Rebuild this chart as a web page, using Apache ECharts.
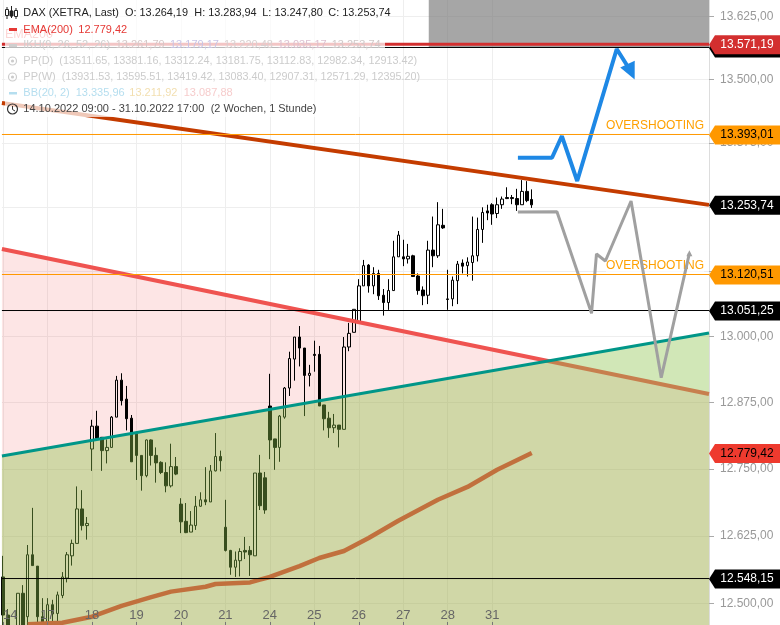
<!DOCTYPE html>
<html><head><meta charset="utf-8">
<style>html,body{margin:0;padding:0;background:#fff}#c{width:780px;height:625px}</style>
<script src="https://cdn.jsdelivr.net/npm/echarts@6/dist/echarts.min.js"></script>
</head><body><div id="c"></div>
<script>
// hourly candles: [open, close, low, high]; index 0 = 14.10.2022 09:00
var ohlc = [
[12549,12479,12445,12588],[12479,12452,12445,12490],[12450,12440,12430,12458],[12455,12519,12448,12519],[12519,12455,12448,12534],[12476,12590,12461,12608],[12590,12570,12570,12677],[12569,12476,12461,12569],[12476,12458,12452,12510],
[12464,12498,12461,12510],[12498,12481,12465,12507],[12482,12516,12467,12522],[12515,12549,12510,12558],[12547,12590,12539,12595],[12588,12611,12570,12618],[12611,12675,12611,12717],[12675,12644,12635,12710],[12644,12648,12618,12660],
[12787,12830,12746,12842],[12830,12807,12807,12859],[12809,12784,12746,12809],[12784,12790,12760,12805],[12790,12847,12790,12849],[12847,12917,12847,12925],[12917,12878,12869,12930],[12881,12844,12822,12906],[12845,12763,12763,12851],
[12815,12775,12729,12815],[12775,12737,12709,12775],[12737,12804,12734,12805],[12804,12775,12756,12805],[12775,12761,12724,12790],[12762,12743,12740,12764],[12743,12718,12706,12762],[12718,12754,12715,12797],[12754,12740,12738,12772],
[12684,12651,12630,12695],[12652,12631,12630,12686],[12632,12645,12632,12671],[12644,12680,12636,12699],[12680,12692,12679,12706],[12692,12688,12682,12753],[12688,12746,12688,12757],[12746,12773,12745,12817],[12773,12765,12745,12784],
[12641,12598,12596,12692],[12598,12567,12553,12599],[12567,12580,12549,12596],[12579,12596,12550,12602],[12598,12595,12582,12623],[12598,12590,12551,12606],[12588,12742,12588,12742],[12742,12681,12673,12776],[12733,12673,12666,12744],
[12868,12804,12768,12929],[12806,12790,12748,12806],[12790,12849,12763,12851],[12847,12902,12844,12904],[12902,12958,12887,12971],[12957,12999,12916,12999],[12999,12978,12943,13020],[12978,12926,12849,12978],[12926,12930,12905,12946],
[12966,12964,12933,12992],[12966,12868,12868,12982],[12870,12844,12822,12870],[12845,12827,12808,12857],[12827,12832,12817,12853],[12832,12824,12790,12832],[12824,12980,12824,12999],[12980,13006,12972,13026],[13008,13052,13008,13052],
[13028,13097,13025,13110],[13097,13136,13097,13147],[13137,13097,13084,13139],[13097,13121,13081,13133],[13121,13078,13070,13128],[13079,13065,13040,13091],[13065,13088,13051,13110],[13088,13153,13088,13184],[13153,13195,13153,13203],
[13153,13149,13135,13186],[13149,13154,13140,13178],[13155,13115,13115,13157],[13116,13088,13080,13121],[13089,13078,13060,13096],[13079,13166,13062,13184],[13166,13155,13133,13231],[13155,13215,13151,13259],[13214,13209,13207,13246],
[13072,13071,13051,13128],[13072,13108,13058,13115],[13107,13139,13062,13145],[13141,13135,13121,13148],[13136,13143,13115,13152],[13142,13155,13107,13231],[13155,13206,13144,13229],[13206,13239,13180,13249],[13242,13238,13224,13254],
[13254,13236,13215,13257],[13237,13254,13228,13268],[13254,13265,13246,13270],[13268,13266,13265,13288],[13268,13266,13255,13273],[13266,13254,13242,13285],[13254,13280,13254,13302],[13280,13262,13259,13300],[13264.19,13253.74,13247.80,13283.94]
];
var emaPoints = [[5,12462],[12,12465],[18,12476],[24,12496],[30,12512],[34,12522],[41,12531],[43,12536],[50,12539],[52,12544],[54,12549],[60,12569],[64,12584],[69,12597],[74,12621],[80,12653],[88,12692],[94,12716],[100,12748],[107,12779.42]];
var dayStarts = [0,9,18,27,36,45,54,63,72,81,90,99];
var dayLabels = ['14','17','18','19','20','21','24','25','26','27','28','31'];
var yTicks = [12500,12625,12750,12875,13000,13125,13250,13375,13500,13625];
var xMin = -0.22, xMax = 142.87, yMin = 12460.8, yMax = 13658.5;
var redTrend = [[xMin,13168],[xMax,12890.6]];
var greenTrend = [[xMin,12773.9],[xMax,13006.7]];
var topTrend = [[xMin,13453.4],[xMax,13253.74]];
var bluePath = [[104.2,13345.8],[111.1,13345.8],[113.1,13388.4],[116.2,13300.3],[124.2,13560.5],[127.1,13515.4]];
var grayPath = [[104.2,13239.9],[112.1,13240.5],[119.1,13044.4],[120.1,13158.5],[121.9,13145],[127.1,13261.3],[133.2,12921.7],[138.9,13159.8]];
// horizontal levels
var levelRed = 13570, levelBlackTop = 13563.6, levelSupport = 13049.7, levelLow = 12546.1, levelClose = 13253.74, levelEma = 12779.42;
var overshoot = [13391.4, 13118.9];
var boxStartIndex = 86.16, boxBottom = 13562.5;
var tags = [
 {v:levelBlackTop, t:'', bg:'#000', fg:'#000'},
 {v:levelRed, t:'13.571,19', bg:'#d32f2f', fg:'#fff'},
 {v:overshoot[0], t:'13.393,01', bg:'#ff9800', fg:'#000'},
 {v:levelClose, t:'13.253,74', bg:'#000', fg:'#fff'},
 {v:overshoot[1], t:'13.120,51', bg:'#ff9800', fg:'#000'},
 {v:levelSupport, t:'13.051,25', bg:'#000', fg:'#fff'},
 {v:levelEma, t:'12.779,42', bg:'#ee3a2e', fg:'#000'},
 {v:levelLow, t:'12.548,15', bg:'#000', fg:'#fff'}
];
// legend rows: [text, x, y, colour, font size]
var legendRows = [
 ['DAX (XETRA, Last)',23.3,13,'#222',10.9],['O: 13.264,19',125,13,'#222',10.9],['H: 13.283,94',194.3,13,'#222',10.9],['L: 13.247,80',262.3,13,'#222',10.9],['C: 13.253,74',328.3,13,'#222',10.9],
 ['EMA(200)',23.3,29.5,'#e53935',11],['12.779,42',78.3,29.5,'#e53935',11],
 ['IKH(9, 26, 52, 26)',23.3,45,'#cfcfcf',11],['13.261,79',115.7,45,'#d6c8c8',11],['13.179,17',170,45,'#c8c4e6',11],['13.220,48',224,45,'#d8d0d0',11],['13.035,17',277.7,45,'#dcc0d0',11],['13.253,74',331.7,45,'#d0c8c8',11],
 ['PP(D)',23.3,61,'#cccccc',11],['(13511.65, 13381.16, 13312.24, 13181.75, 13112.83, 12982.34, 12913.42)',59.3,61,'#cccccc',10.83],
 ['PP(W)',23.3,77,'#cccccc',11],['(13931.53, 13595.51, 13419.42, 13083.40, 12907.31, 12571.29, 12395.20)',61.7,77,'#cccccc',10.8],
 ['BB(20, 2)',23.3,93,'#b5deef',11],['13.335,96',75.7,93,'#b5deef',11],['13.211,92',129.3,93,'#f2dfb0',11],['13.087,88',183.7,93,'#f6cccc',11],
 ['14.10.2022 09:00 - 31.10.2022 17:00',23.3,109,'#444',11],['(2 Wochen, 1 Stunde)',210.7,109,'#444',10.9]
];
var FONT = '"Liberation Sans", Arial, sans-serif';
function hline(v,color,width,z){return {type:'line',z:z,silent:true,symbol:'none',lineStyle:{color:color,width:width},data:[[xMin,v],[xMax,v]]};}
function fmt(v){var s=v.toFixed(2).replace('.',',');return s.slice(0,2)+'.'+s.slice(2);}

var series = [
 {type:'line',z:1,silent:true,symbol:'none',lineStyle:{width:0},areaStyle:{origin:'start',opacity:1,color:'rgba(239,83,80,0.15)'},data:redTrend},
 {type:'candlestick',z:2,silent:true,barWidth:3,
  itemStyle:{color:'rgba(0,0,0,0)',color0:'#000',borderColor:'#000',borderColor0:'#000',borderColorDoji:'#000',borderWidth:1},
  data:ohlc.map(function(d,i){return [i,d[0],d[1],d[2],d[3]];})},
 {type:'line',z:3,silent:true,symbol:'none',smooth:false,lineStyle:{color:'#e53935',width:4.5},data:emaPoints},
 {type:'line',z:3,silent:true,symbol:'none',lineStyle:{color:'#ef5350',width:4},data:redTrend},
 {type:'line',z:4,silent:true,symbol:'none',lineStyle:{color:'#009688',width:3},areaStyle:{origin:'start',opacity:1,color:'rgba(139,195,74,0.4)'},data:greenTrend},
 hline(levelRed,'#d32f2f',3,5),
 hline(levelBlackTop,'#000',1,5),
 hline(levelSupport,'#000',1,5),
 hline(levelLow,'#000',1,5),
 {type:'line',z:6,silent:true,symbol:'none',lineStyle:{width:0},data:[[xMin,yMax]],
  markArea:{silent:true,itemStyle:{color:'rgba(116,116,116,0.64)'},data:[[{coord:[boxStartIndex,boxBottom]},{coord:[xMax,yMax]}]]}},
 {type:'line',z:6,silent:true,symbol:'none',lineStyle:{color:'#c43c00',width:4},data:topTrend},
 {type:'line',z:7,silent:true,symbol:'none',showSymbol:true,lineStyle:{color:'#a0a0a0',width:3},itemStyle:{color:'#a0a0a0'},
  data:grayPath.map(function(p,i){return i===grayPath.length-1?{value:p,symbol:'triangle',symbolSize:6,symbolRotate:0}:{value:p};})},
 {type:'line',z:7,silent:true,symbol:'none',showSymbol:true,lineStyle:{color:'#1e88e5',width:4},itemStyle:{color:'#1e88e5'},
  data:bluePath.map(function(p,i){return i===bluePath.length-1?{value:p,symbol:'triangle',symbolSize:[16,17],symbolRotate:205}:{value:p};})},
 hline(overshoot[0],'#ff9800',1,8),
 hline(overshoot[1],'#ff9800',1,8),
 {type:'line',z:8,silent:true,symbol:'none',lineStyle:{width:0},data:[[xMin,yMax]],
  markLine:{silent:true,symbol:'none',animation:false,lineStyle:{color:'#ff9800',width:0,type:'solid'},
   label:{show:true,formatter:'OVERSHOOTING',position:'insideEndTop',distance:[5,1.5],color:'#ffa000',fontFamily:FONT,fontSize:12,backgroundColor:'rgba(255,255,255,0.7)',padding:[1,0]},
   data:overshoot.map(function(v){return {yAxis:v};})}},
 {type:'line',z:9,silent:true,symbol:'none',lineStyle:{width:0},data:[[xMin,yMax]],
  markPoint:{silent:true,animation:false,
   data:tags.map(function(t){return {coord:[xMax,t.v],symbol:'path://M0 10 L6 0 L71 0 L71 20 L6 20 Z',symbolKeepAspect:false,symbolSize:[71,19],symbolOffset:[35.5,0.5],
     itemStyle:{color:t.bg},label:{show:!!t.t,position:'inside',offset:[2.5,0],formatter:t.t,color:t.fg,fontFamily:FONT,fontSize:12}};})}}
];

var g = [
 {type:'text',z:90,style:{x:5,y:35,text:'EMA200',font:'12.5px '+FONT,fill:'rgba(239,83,80,0.85)',verticalAlign:'middle'}},
 {type:'rect',z:91,shape:{x:5,y:0,width:380,height:117},style:{fill:'rgba(255,255,255,0.72)'}},
 {type:'line',z:92,shape:{x1:7,y1:7,x2:7,y2:19},style:{stroke:'#222',lineWidth:1}},
 {type:'rect',z:92,shape:{x:5.5,y:9.5,width:3,height:6},style:{fill:'#fff',stroke:'#222',lineWidth:1}},
 {type:'line',z:92,shape:{x1:11.5,y1:6,x2:11.5,y2:18},style:{stroke:'#222',lineWidth:1}},
 {type:'rect',z:92,shape:{x:10,y:11,width:3,height:5},style:{fill:'#222',stroke:'#222',lineWidth:1}},
 {type:'line',z:92,shape:{x1:16,y1:8,x2:16,y2:19},style:{stroke:'#222',lineWidth:1}},
 {type:'rect',z:92,shape:{x:14.5,y:10.5,width:3,height:6},style:{fill:'#fff',stroke:'#222',lineWidth:1}},
 {type:'rect',z:92,shape:{x:9,y:28,width:8,height:3},style:{fill:'#e53935'}},
 {type:'rect',z:92,shape:{x:9,y:44,width:8,height:3},style:{fill:'#cfcfcf'}},
 {type:'circle',z:92,shape:{cx:12.5,cy:61,r:4},style:{fill:'none',stroke:'#cccccc',lineWidth:1.2}},
 {type:'circle',z:92,shape:{cx:12.5,cy:61,r:1.6},style:{fill:'#cccccc'}},
 {type:'circle',z:92,shape:{cx:12.5,cy:77,r:4},style:{fill:'none',stroke:'#cccccc',lineWidth:1.2}},
 {type:'circle',z:92,shape:{cx:12.5,cy:77,r:1.6},style:{fill:'#cccccc'}},
 {type:'rect',z:92,shape:{x:9,y:92,width:8,height:2.5},style:{fill:'#b5deef'}},
 {type:'circle',z:92,shape:{cx:12.5,cy:109,r:5},style:{fill:'none',stroke:'#333',lineWidth:1.2}},
 {type:'polyline',z:92,shape:{points:[[12.5,106],[12.5,109.5],[15,111]]},style:{fill:'none',stroke:'#333',lineWidth:1}}
].concat(legendRows.map(function(r){
  return {type:'text',z:93,style:{x:r[1],y:r[2],text:r[0],font:r[4]+'px '+FONT,fill:r[3],verticalAlign:'middle'}};
}));

var chart = echarts.init(document.getElementById('c'),null,{renderer:'canvas'});
chart.setOption({
 animation:false,
 backgroundColor:'#fff',
 textStyle:{fontFamily:FONT},
 grid:{left:0,top:0,width:709,height:625,containLabel:false,show:false},
 xAxis:[
  {type:'value',z:0,min:xMin,max:xMax,position:'bottom',
   axisLine:{show:false,onZero:false},axisTick:{show:false,customValues:dayStarts},axisLabel:{show:false,customValues:dayStarts},
   splitLine:{show:true,lineStyle:{color:'#eeeeee',width:1}}},
  {type:'value',z:10,min:xMin,max:xMax,position:'bottom',
   axisLine:{show:false,onZero:false},
   axisTick:{show:true,inside:true,length:3,lineStyle:{color:'#777'},customValues:dayStarts},
   splitLine:{show:false},
   axisLabel:{show:true,inside:true,margin:3,color:'#666',fontSize:13,fontFamily:FONT,alignMinLabel:'left',customValues:dayStarts,
    formatter:function(v){return dayLabels[dayStarts.indexOf(v)];}}}
 ],
 yAxis:{type:'log',position:'right',min:yMin,max:yMax,
  axisLine:{show:true,onZero:false,lineStyle:{color:'#dddddd',width:1}},
  axisTick:{show:true,length:5,lineStyle:{color:'#aaaaaa'},customValues:yTicks},
  splitLine:{show:true,lineStyle:{color:'#eeeeee',width:1}},
  minorTick:{show:false},minorSplitLine:{show:false},
  axisLabel:{show:true,margin:11,color:'#999',fontSize:12,fontFamily:FONT,customValues:yTicks,formatter:function(v){return fmt(v);}}},
 series:series,
 graphic:g
});
</script></body></html>
